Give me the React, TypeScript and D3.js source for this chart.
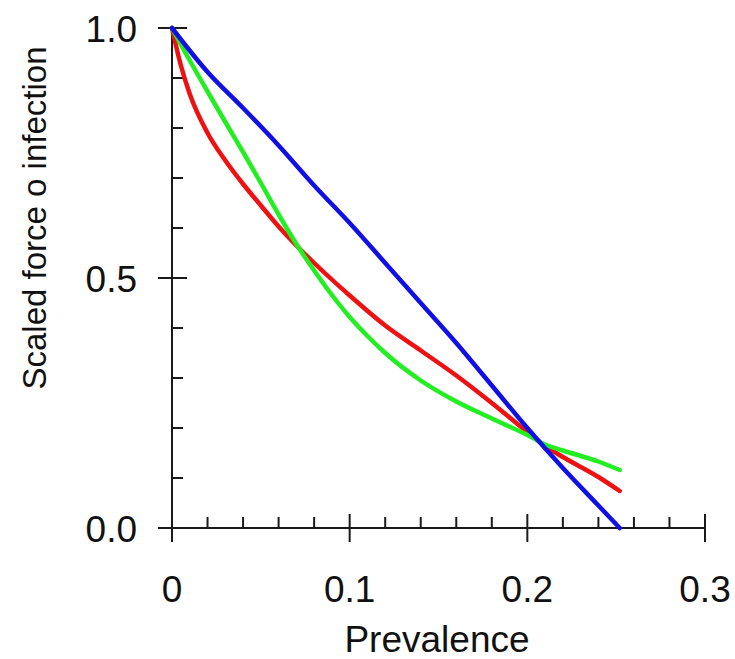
import React from "react";
import * as d3 from "d3";

const xTicksMajor = [0, 0.1, 0.2, 0.3];
const xTickLabels = ["0", "0.1", "0.2", "0.3"];
const xTicksMinor = [0.02, 0.04, 0.06, 0.08, 0.12, 0.14, 0.16, 0.18, 0.22, 0.24, 0.26, 0.28];
const yTicksMajor = [0, 0.5, 1.0];
const yTickLabels = ["0.0", "0.5", "1.0"];
const yTicksMinor = [0.1, 0.2, 0.3, 0.4, 0.6, 0.7, 0.8, 0.9];

const blueX = [0, 0.02, 0.04, 0.06, 0.08, 0.1, 0.12, 0.14, 0.16, 0.18, 0.2, 0.22, 0.24, 0.252];
const blueY = [1, 0.912, 0.84, 0.765, 0.685, 0.61, 0.53, 0.45, 0.37, 0.285, 0.2, 0.12, 0.045, 0];

const redX = [0, 0.005, 0.01, 0.02, 0.03, 0.04, 0.05, 0.06, 0.07, 0.08, 0.1, 0.12, 0.14, 0.16, 0.18, 0.2, 0.21, 0.22, 0.24, 0.252];
const redY = [1, 0.925, 0.868, 0.79, 0.735, 0.688, 0.645, 0.603, 0.565, 0.53, 0.465, 0.405, 0.355, 0.305, 0.25, 0.192, 0.164, 0.142, 0.102, 0.074];

const greenX = [0, 0.01, 0.02, 0.03, 0.04, 0.05, 0.06, 0.07, 0.08, 0.09, 0.1, 0.11, 0.12, 0.14, 0.16, 0.18, 0.2, 0.21, 0.22, 0.24, 0.252];
const greenY = [1, 0.935, 0.873, 0.812, 0.752, 0.69, 0.627, 0.568, 0.515, 0.466, 0.422, 0.384, 0.35, 0.295, 0.253, 0.219, 0.186, 0.167, 0.155, 0.133, 0.116];

const series = [
  { xs: redX, ys: redY, color: "#ee1111" },
  { xs: greenX, ys: greenY, color: "#22ee22" },
  { xs: blueX, ys: blueY, color: "#1010e6" },
];

export default function App() {
  const W = 735, H = 659;
  const x = d3.scaleLinear().domain([0, 0.3]).range([172, 705]);
  const y = d3.scaleLinear().domain([0, 1]).range([528, 28]);
  const line = d3
    .line<[number, number]>()
    .x((d) => x(d[0]))
    .y((d) => y(d[1]))
    .curve(d3.curveMonotoneX);
  const axisColor = "#1a1a1a";
  const font = "'Liberation Sans', Arial, sans-serif";
  return (
    <svg width={W} height={H} style={{ position: "absolute", left: 0, top: 0, background: "#fff" }}>
      <line x1={x(0)} x2={x(0.3)} y1={y(0)} y2={y(0)} stroke={axisColor} strokeWidth={2} />
      <line x1={x(0)} x2={x(0)} y1={y(1)} y2={y(0)} stroke={axisColor} strokeWidth={2} />
      {xTicksMajor.map((t, i) => (
        <line key={"xM" + i} x1={x(t)} x2={x(t)} y1={t === 0 ? y(0) : y(0) - 14} y2={y(0) + 14} stroke={axisColor} strokeWidth={2} />
      ))}
      {xTicksMinor.map((t, i) => (
        <line key={"xm" + i} x1={x(t)} x2={x(t)} y1={y(0) - 11} y2={y(0)} stroke={axisColor} strokeWidth={2} />
      ))}
      {yTicksMajor.map((t, i) => (
        <line key={"yM" + i} x1={x(0) - 14} x2={x(0) + 15} y1={y(t)} y2={y(t)} stroke={axisColor} strokeWidth={2} />
      ))}
      {yTicksMinor.map((t, i) => (
        <line key={"ym" + i} x1={x(0)} x2={x(0) + 11} y1={y(t)} y2={y(t)} stroke={axisColor} strokeWidth={2} />
      ))}
      {xTicksMajor.map((t, i) => (
        <text key={"xl" + i} x={x(t)} y={602} textAnchor="middle" fontFamily={font} fontSize={37} fill="#111">
          {xTickLabels[i]}
        </text>
      ))}
      {yTicksMajor.map((t, i) => (
        <text key={"yl" + i} x={137} y={y(t) + 14} textAnchor="end" fontFamily={font} fontSize={37} fill="#111">
          {yTickLabels[i]}
        </text>
      ))}
      <text x={437} y={652} textAnchor="middle" fontFamily={font} fontSize={37} fill="#111">
        Prevalence
      </text>
      <text
        transform={`translate(46, 218) rotate(-90)`}
        textAnchor="middle"
        fontFamily={font}
        fontSize={33}
        fill="#111"
      >
        Scaled force o infection
      </text>
      {series.map((s, i) => (
        <path
          key={"s" + i}
          d={line(s.xs.map((v, j) => [v, s.ys[j]] as [number, number])) || ""}
          fill="none"
          stroke={s.color}
          strokeWidth={4.5}
          strokeLinecap="round"
          strokeLinejoin="round"
        />
      ))}
    </svg>
  );
}
